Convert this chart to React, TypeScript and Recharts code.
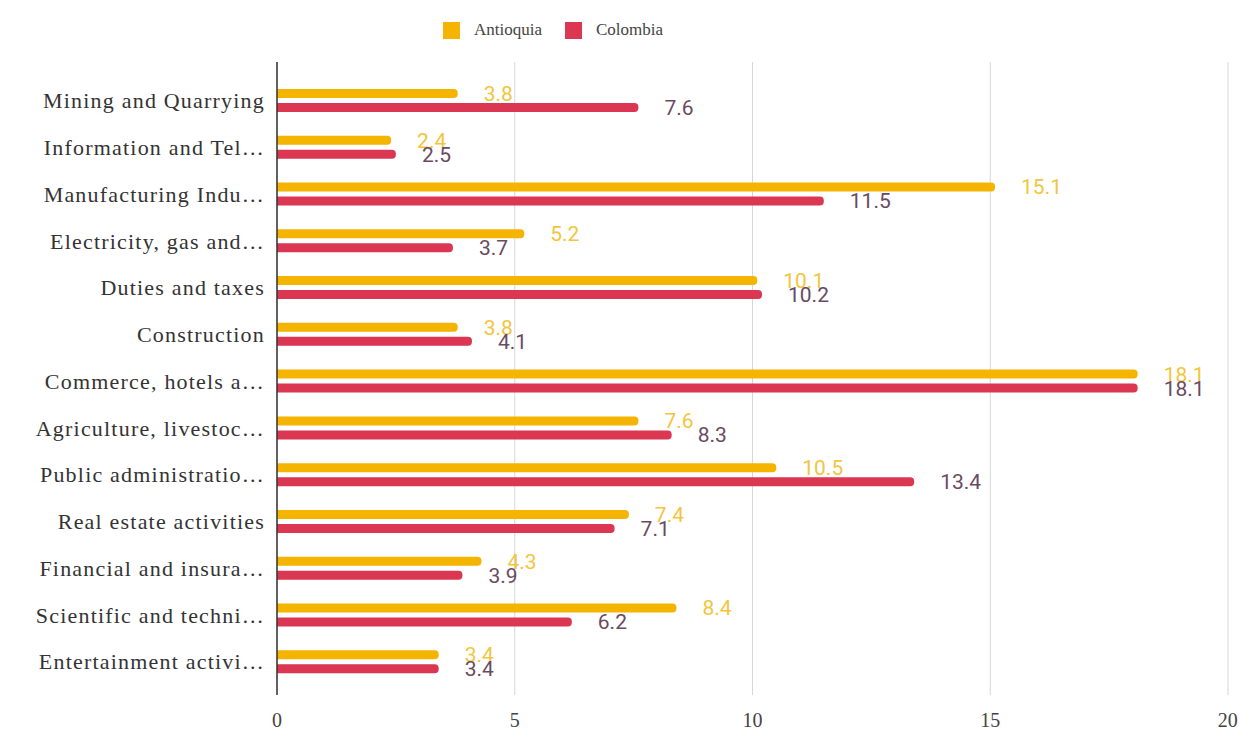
import { Bar, BarChart, CartesianGrid, LabelList, Legend, XAxis, YAxis } from "recharts";

const SECTORS = [
  "Mining and Quarrying",
  "Information and Tel…",
  "Manufacturing Indu…",
  "Electricity, gas and…",
  "Duties and taxes",
  "Construction",
  "Commerce, hotels a…",
  "Agriculture, livestoc…",
  "Public administratio…",
  "Real estate activities",
  "Financial and insura…",
  "Scientific and techni…",
  "Entertainment activi…"
];
const ANTIOQUIA = [3.8, 2.4, 15.1, 5.2, 10.1, 3.8, 18.1, 7.6, 10.5, 7.4, 4.3, 8.4, 3.4];
const COLOMBIA = [7.6, 2.5, 11.5, 3.7, 10.2, 4.1, 18.1, 8.3, 13.4, 7.1, 3.9, 6.2, 3.4];
const X_TICKS = [0, 5, 10, 15, 20];

const YELLOW = "#f4b400";
const RED = "#db3752";
const SERIF = "'Liberation Serif', 'Times New Roman', serif";

const data = SECTORS.map((sector, i) => ({
  sector,
  Antioquia: ANTIOQUIA[i],
  Colombia: COLOMBIA[i]
}));

function LegendBox() {
  const items = [
    { name: "Antioquia", color: YELLOW },
    { name: "Colombia", color: RED }
  ];
  return (
    <div style={{ display: "flex", gap: 23, paddingLeft: 443, fontFamily: SERIF, fontSize: 17, color: "#444" }}>
      {items.map((it) => (
        <div key={it.name} style={{ display: "flex", alignItems: "center" }}>
          <span style={{ width: 17, height: 17, background: it.color, display: "inline-block", marginRight: 14 }} />
          {it.name}
        </div>
      ))}
    </div>
  );
}

export default function App() {
  return (
    <div style={{ position: "absolute", left: 0, top: 0, background: "#fff" }}>
      <BarChart
        width={1239}
        height={734}
        data={data}
        layout="vertical"
        margin={{ top: 62, right: 11, bottom: 9, left: 0 }}
        barSize={9}
        barGap={5}
      >
        <CartesianGrid horizontal={false} stroke="#d6d6d6" />
        <XAxis
          type="number"
          domain={[0, 20]}
          ticks={X_TICKS}
          axisLine={false}
          tickLine={false}
          tickMargin={12}
          tick={{ fontFamily: SERIF, fontSize: 20, fill: "#444" }}
        />
        <YAxis
          type="category"
          dataKey="sector"
          width={277}
          padding={{ top: 15, bottom: 10 }}
          axisLine={{ stroke: "#333", strokeWidth: 1.5 }}
          tickLine={false}
          tickMargin={6}
          interval={0}
          tick={{ fontFamily: SERIF, fontSize: 22, letterSpacing: 1.2, fill: "#333" }}
        />
        <Legend
          layout="horizontal"
          verticalAlign="middle"
          align="center"
          wrapperStyle={{ top: 20, left: 0, width: 1239 }}
          content={() => <LegendBox />}
        />
        <Bar dataKey="Antioquia" fill={YELLOW} radius={[0, 4, 4, 0]} isAnimationActive={false}>
          <LabelList
            dataKey="Antioquia"
            position="right"
            offset={26}
            style={{ fill: "#f2c53d", fontFamily: "Roboto, sans-serif", fontSize: 21 }}
          />
        </Bar>
        <Bar dataKey="Colombia" fill={RED} radius={[0, 4, 4, 0]} isAnimationActive={false}>
          <LabelList
            dataKey="Colombia"
            position="right"
            offset={26}
            style={{ fill: "#6a4a62", fontFamily: "Roboto, sans-serif", fontSize: 21 }}
          />
        </Bar>
      </BarChart>
    </div>
  );
}
